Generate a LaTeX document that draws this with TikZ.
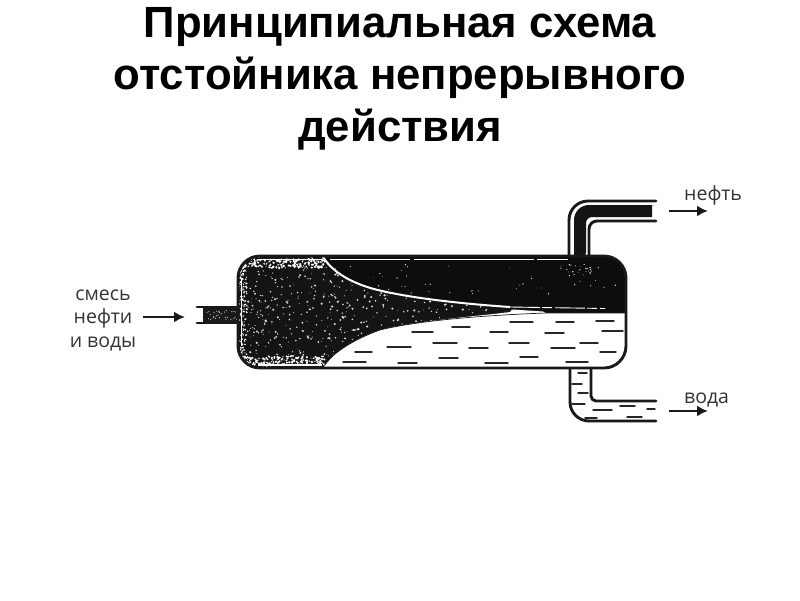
\documentclass[tikz,border=0pt]{standalone}
\usepackage{fontspec}
\setmainfont{Liberation Sans}
\newfontfamily\labelfont{Open Sans}
\usetikzlibrary{arrows.meta}
\tikzset{
  px/.style={x=1pt,y=-1pt},
  titletext/.style={font=\fontsize{43.7}{48}\selectfont\bfseries,text=black,anchor=base,inner sep=0pt},
  labeltext/.style={font=\labelfont\fontsize{19.5}{22}\selectfont,text=black!80,inner sep=0pt,anchor=base},
  wall/.style={draw=black!90,line width=2.9pt,line cap=round,line join=round},
  flowarrow/.style={draw=black!90,line width=2.8pt,-{Latex[length=11pt,width=11pt]}},
  ripple/.style={draw=black!85,line width=1.4pt,line cap=round}
}
\newcommand{\vesselpath}{[rounded corners=22pt] (300,256) -- (626,256) -- (626,368) -- (238,368) -- (238,256) -- (300,256)}
\begin{document}
\begin{tikzpicture}[px]
\useasboundingbox (0,0) rectangle (800,600);
\fill[white] (0,0) rectangle (800,600);
\node[titletext] (t1) at (400,37) {Принципиальная схема};
\node[titletext] (t2) at (400,89) {отстойника непрерывного};
\node[titletext] (t3) at (400,141) {действия};
% inlet pipe
\fill[black!90] (203,308) rectangle (240,322);
\pgfmathsetseed{7}
\foreach \i in {1,...,30}{\pgfmathsetmacro{\xx}{205+rnd*33}\pgfmathsetmacro{\yy}{310+rnd*10}\fill[white!80!black] (\xx,\yy) circle[radius=0.6];}
\draw[wall] (197,307) -- (238,307);
\draw[wall] (197,323) -- (238,323);
% oil outlet
\fill[black!92,rounded corners=15pt] (574,258) -- (574,205) -- (640,205) [sharp corners] -- (652,205) -- (652,217) [rounded corners=6pt] -- (586,217) -- (586,258) [sharp corners] -- cycle;
\draw[wall,rounded corners=19pt] (569,256) -- (569,201) -- (656,201);
\draw[wall,rounded corners=8pt] (589,256) -- (589,221) -- (656,221);
% water outlet
\draw[wall,rounded corners=19pt] (570,368) -- (570,421) -- (656,421);
\draw[wall,rounded corners=5pt] (591,368) -- (591,401) -- (656,401);
% vessel contents
\begin{scope}
\clip \vesselpath;
\fill[black!92] (230,250) rectangle (630,375);
% mixture speckles
\begin{scope}
\clip (236,254) -- (323,254) .. controls (335,275) and (360,285) .. (380,290) .. controls (420,300) and (490,308) .. (543,312) .. controls (480,316) and (420,322) .. (380,331) .. controls (360,337) and (335,350) .. (325,370) -- (236,370) -- cycle;
\pgfmathsetseed{1234}
\foreach \i in {1,...,650}{\pgfmathsetmacro{\xx}{238+(rnd^1.4)*270}\pgfmathsetmacro{\yy}{256+rnd*112}\pgfmathsetmacro{\rr}{0.4+rnd*0.8}\fill[white!85!black] (\xx,\yy) circle[radius=\rr];}
\foreach \i in {1,...,170}{\pgfmathsetmacro{\xx}{240+rnd*85}\pgfmathsetmacro{\yy}{259+rnd*9}\pgfmathsetmacro{\rr}{0.5+rnd*0.8}\fill[white] (\xx,\yy) circle[radius=\rr];}
\foreach \i in {1,...,170}{\pgfmathsetmacro{\xx}{240+rnd*85}\pgfmathsetmacro{\yy}{356+rnd*9}\pgfmathsetmacro{\rr}{0.5+rnd*0.8}\fill[white] (\xx,\yy) circle[radius=\rr];}
\foreach \i in {1,...,110}{\pgfmathsetmacro{\xx}{240+rnd*7}\pgfmathsetmacro{\yy}{262+rnd*100}\pgfmathsetmacro{\rr}{0.4+rnd*0.7}\fill[white] (\xx,\yy) circle[radius=\rr];}
\end{scope}
% oil region
\fill[black!95] (326,258) .. controls (338,277) and (360,288) .. (380,292) .. controls (420,301) and (480,306) .. (530,309.5) -- (545,312) -- (630,313) -- (630,250) -- (326,250) -- cycle;
\pgfmathsetseed{99}
\foreach \i in {1,...,45}{\pgfmathsetmacro{\xx}{335+rnd*285}\pgfmathsetmacro{\yy}{262+rnd*32}\pgfmathsetmacro{\rr}{0.3+rnd*0.5}\fill[white!85!black] (\xx,\yy) circle[radius=\rr];}
\foreach \i in {1,...,22}{\pgfmathsetmacro{\xx}{560+rnd*32}\pgfmathsetmacro{\yy}{264+rnd*12}\pgfmathsetmacro{\rr}{0.3+rnd*0.5}\fill[white] (\xx,\yy) circle[radius=\rr];}
% thin white line under the upper wall
\draw[white,line width=0.9pt,dash pattern=on 80pt off 4pt on 120pt off 3pt] (330,259) -- (568,259);
\draw[white,line width=1.4pt] (258,259.5) -- (322,259.5);
\draw[white,line width=1.4pt] (258,364.8) -- (322,364.8);
\draw[white,line width=1.4pt] (241.5,278) -- (241.5,346);
% separating white line
\draw[white,line width=2pt] (323,257) .. controls (335,276) and (360,286) .. (380,290.5) .. controls (420,300) and (480,305) .. (510,307);
\draw[white,line width=0.9pt,dash pattern=on 30pt off 2pt on 10pt off 3pt] (510,307) -- (605,308.5);
% water
\fill[white] (323,369) -- (325,365) .. controls (335,350) and (360,337) .. (380,330) .. controls (420,320) and (490,315) .. (510,312) -- (512,309.5) -- (543,311.5) -- (546,313) -- (630,313) -- (630,369) -- cycle;
\draw[black!90,line width=0.7pt] (325,365) .. controls (335,350) and (360,337) .. (380,330) .. controls (420,320) and (490,315) .. (546,313) -- (630,313);
\foreach \a/\b/\c in {
 510/533/322, 556/574/322, 596/614/321,
 602/623/331, 545/564/333, 490/508/332, 452/470/327, 412/433/332,
 433/457/343, 469/488/348, 509/529/343, 551/575/348, 580/598/343,
 600/616/352, 439/458/358, 485/508/363, 520/538/357, 566/588/362,
 387/411/347, 355/372/352, 343/366/362, 398/417/363}
 {\draw[ripple] (\a,\c) -- (\b,\c);}
\end{scope}
\draw[wall] \vesselpath;
% pipe ripples
\foreach \a/\b/\c in {578/587/373, 572/582/384, 578/588/393, 572/585/404, 593/612/410, 620/635/406, 647/655/409, 585/597/418, 627/642/417}
 {\draw[ripple] (\a,\c) -- (\b,\c);}
% labels
\node[labeltext] (l1) at (103,300) {смесь};
\node[labeltext] (l2) at (103,323) {нефти};
\node[labeltext] (l3) at (103,347) {и воды};
\node[labeltext,anchor=base west] (o) at (684,200) {нефть};
\node[labeltext,anchor=base west] (w) at (684,403) {вода};
\coordinate (a1s) at (143,317); \coordinate (a1e) at (185,317);
\coordinate (a2s) at (669,211); \coordinate (a2e) at (708,211);
\coordinate (a3s) at (669,411); \coordinate (a3e) at (708,411);
\draw[flowarrow] (a1s) -- (a1e);
\draw[flowarrow] (a2s) -- (a2e);
\draw[flowarrow] (a3s) -- (a3e);
\end{tikzpicture}
\end{document}
